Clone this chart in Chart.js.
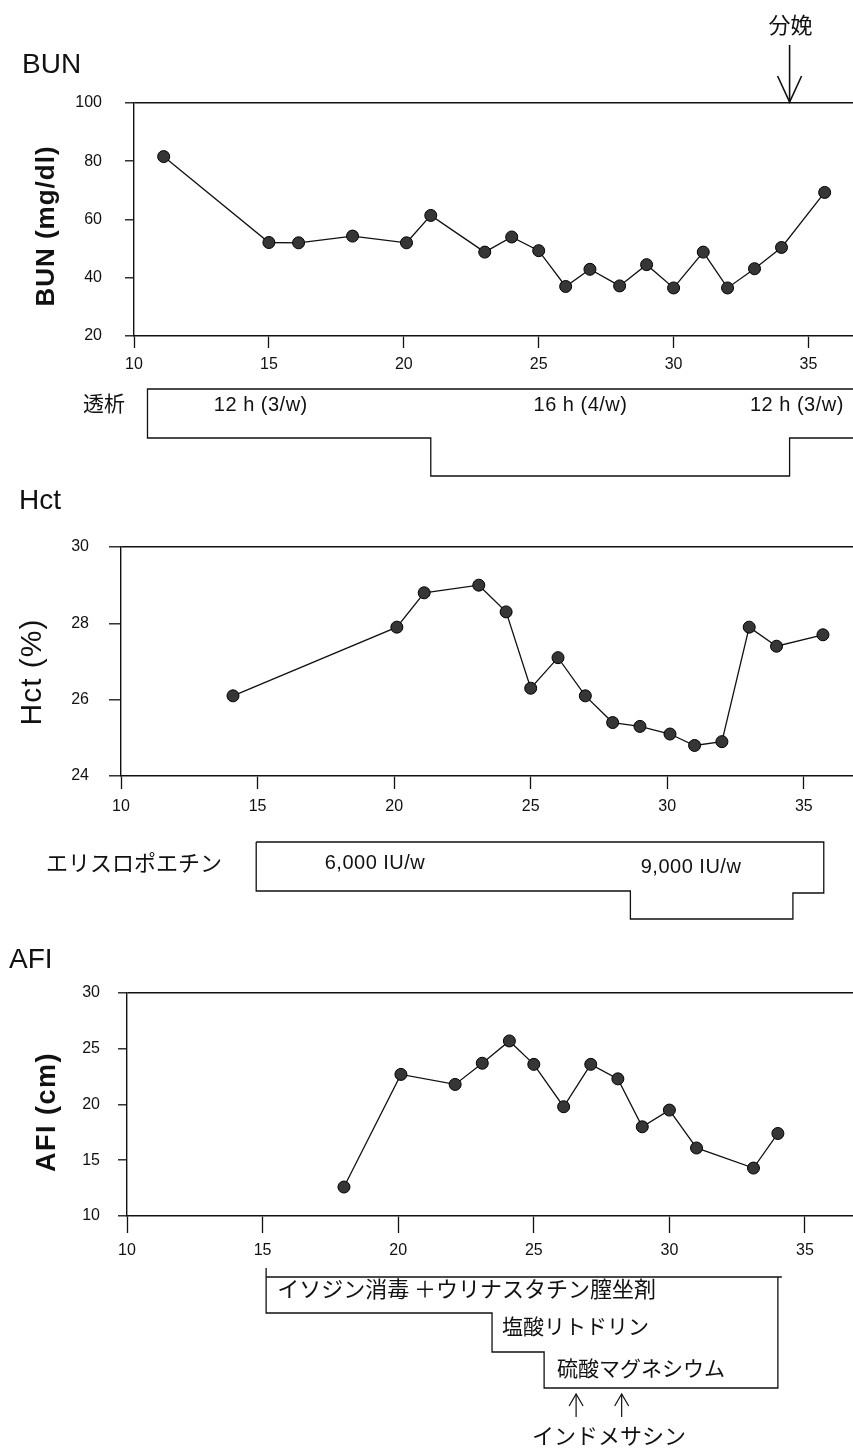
<!DOCTYPE html>
<html><head><meta charset="utf-8">
<script src="https://cdn.jsdelivr.net/npm/chart.js@4.4.1/dist/chart.umd.min.js"></script>
<style>
html,body{margin:0;padding:0;background:#fff;}
body{width:853px;height:1456px;position:relative;overflow:hidden;}
canvas{position:absolute;left:0;}
</style></head><body>
<canvas id="c1" width="853" height="480" style="top:0px"></canvas>
<canvas id="c2" width="853" height="455" style="top:480px"></canvas>
<canvas id="c3" width="853" height="521" style="top:935px"></canvas>
<script>
// ---- data (gestational week vs value) ----
const weekTicks = [10, 15, 20, 25, 30, 35];

const bunWeeks  = [11.1, 15.0, 16.1, 18.1, 20.1, 21.0, 23.0, 24.0, 25.0, 26.0, 26.9, 28.0, 29.0, 30.0, 31.1, 32.0, 33.0, 34.0, 35.6];
const bunValues = [81.6, 52.1, 52.0, 54.3, 52.0, 61.4, 48.8, 54.0, 49.3, 37.0, 42.9, 37.2, 44.5, 36.5, 48.8, 36.5, 43.1, 50.4, 69.3];
const bunTicks  = [20, 40, 60, 80, 100];

const hctWeeks  = [14.1, 20.1, 21.1, 23.1, 24.1, 25.0, 26.0, 27.0, 28.0, 29.0, 30.1, 31.0, 32.0, 33.0, 34.0, 35.7];
const hctValues = [26.1, 27.9, 28.8, 29.0, 28.3, 26.3, 27.1, 26.1, 25.4, 25.3, 25.1, 24.8, 24.9, 27.9, 27.4, 27.7];
const hctTicks  = [24, 26, 28, 30];

const afiWeeks  = [18.0, 20.1, 22.1, 23.1, 24.1, 25.0, 26.1, 27.1, 28.1, 29.0, 30.0, 31.0, 33.1, 34.0];
const afiValues = [12.6, 22.7, 21.8, 23.7, 25.7, 23.6, 19.8, 23.6, 22.3, 18.0, 19.5, 16.1, 14.3, 17.4];
const afiTicks  = [10, 15, 20, 25, 30];

const deliveryWeek = 34.3;

const dialysisChanges = [10.5, 21.0, 34.3];
const dialysisLevels  = [0, 1, 0];
const dialysisLabels  = ['12 h (3/w)', '16 h (4/w)', '12 h (3/w)'];

const epoChanges = [14.95, 28.65, 34.6];
const epoEnd     = 35.73;
const epoLevels  = [0, 1, 0];
const epoLabels  = ['6,000 IU/w', '9,000 IU/w'];

const drugStarts = [15.13, 23.46, 25.38];
const drugEnd    = 34.0;
const drugLabels = ['イソジン消毒 ＋ウリナスタチン膣坐剤', '塩酸リトドリン', '硫酸マグネシウム'];
const indomethacinWeeks = [26.56, 28.24];

// ---- drawing helpers ----
const SANS = '"Liberation Sans", Arial, Helvetica, sans-serif';
const CJK  = '"Noto Sans CJK JP", "Noto Sans CJK SC", sans-serif';
const INK  = '#111';

function text(ctx, s, x, y, font, align, spacing) {
  ctx.save();
  ctx.font = font; ctx.fillStyle = INK; ctx.textAlign = align || 'left'; ctx.textBaseline = 'middle';
  if (spacing) ctx.letterSpacing = spacing;
  ctx.fillText(s, x, y);
  ctx.restore();
}
function vtext(ctx, s, x, y, font, spacing) {
  ctx.save();
  ctx.translate(x, y); ctx.rotate(-Math.PI / 2);
  ctx.font = font; ctx.fillStyle = INK; ctx.textAlign = 'center'; ctx.textBaseline = 'middle';
  if (spacing) ctx.letterSpacing = spacing;
  ctx.fillText(s, 0, 0);
  ctx.restore();
}
function poly(ctx, pts, w) {
  ctx.save();
  ctx.strokeStyle = INK; ctx.lineWidth = w || 1.4; ctx.lineJoin = 'miter';
  ctx.beginPath();
  pts.forEach((p, i) => i ? ctx.lineTo(p[0], p[1]) : ctx.moveTo(p[0], p[1]));
  ctx.stroke();
  ctx.restore();
}

function buildChart(id, cfg) {
  const pts = cfg.weeks.map((w, i) => ({ x: w, y: cfg.values[i] }));
  return new Chart(document.getElementById(id), {
    type: 'line',
    data: { datasets: [{
      data: pts, borderColor: INK, borderWidth: 1.3, tension: 0, clip: false,
      pointRadius: 6, pointHoverRadius: 6, pointBackgroundColor: '#363636',
      pointBorderColor: '#000', pointBorderWidth: 1
    }]},
    options: {
      responsive: false, animation: false, devicePixelRatio: 1, events: [],
      layout: { padding: { top: cfg.top, left: 0, right: 0, bottom: 0 }, autoPadding: false },
      plugins: { legend: { display: false }, tooltip: { enabled: false } },
      scales: {
        x: {
          type: 'linear', min: 10, max: cfg.xMax,
          afterFit: s => { s.height = cfg.xHeight; s.paddingLeft = 0; s.paddingRight = 0; },
          afterBuildTicks: s => { s.ticks = weekTicks.map(v => ({ value: v })); },
          grid: { drawOnChartArea: false, drawTicks: true, tickLength: cfg.xTickLen, tickColor: INK, tickWidth: 1.3, color: INK },
          border: { display: true, color: INK, width: 1.6 },
          ticks: { color: INK, font: { family: SANS, size: 16 }, padding: cfg.xPad, maxRotation: 0, autoSkip: false }
        },
        y: {
          type: 'linear', min: cfg.yMin, max: cfg.yMax,
          afterFit: s => { s.width = cfg.left; s.paddingTop = 0; s.paddingBottom = 0; },
          afterBuildTicks: s => { s.ticks = cfg.yTicks.map(v => ({ value: v })); },
          grid: {
            drawOnChartArea: true,
            color: c => (c.tick && c.tick.value === cfg.yMax) ? INK : 'rgba(0,0,0,0)',
            lineWidth: 1.6, tickLength: cfg.yTickLen, tickColor: INK, tickWidth: 1.3
          },
          border: { display: true, color: INK, width: 1.4 },
          ticks: { color: INK, font: { family: SANS, size: 16 }, padding: cfg.yPad, autoSkip: false }
        }
      }
    },
    plugins: [{ id: 'extras', afterDraw: chart => cfg.draw(chart) }]
  });
}

// ---- BUN panel ----
buildChart('c1', {
  weeks: bunWeeks, values: bunValues, yTicks: bunTicks,
  yMin: 20, yMax: 100, xMax: 36.65,
  top: 103, left: 134, xHeight: 144, xTickLen: 12, xPad: 7, yTickLen: 9, yPad: 23,
  draw: chart => {
    const ctx = chart.ctx, px = v => chart.scales.x.getPixelForValue(v);
    text(ctx, 'BUN', 22, 65, '28px ' + SANS);
    vtext(ctx, 'BUN (mg/dl)', 47, 226, 'bold 26px ' + SANS, '1px');
    const ax = px(deliveryWeek);
    poly(ctx, [[ax, 45], [ax, 102]], 1.6);
    poly(ctx, [[ax - 12, 76], [ax, 102], [ax + 12, 76]], 1.6);
    text(ctx, '分娩', ax + 1, 25, '22px ' + CJK, 'center');
    // dialysis regimen box
    const top = 389, rowBottom = [438, 476], right = chart.width;
    const p = [[right, top], [px(dialysisChanges[0]), top], [px(dialysisChanges[0]), rowBottom[dialysisLevels[0]]]];
    for (let i = 1; i < dialysisChanges.length; i++) {
      p.push([px(dialysisChanges[i]), rowBottom[dialysisLevels[i - 1]]]);
      p.push([px(dialysisChanges[i]), rowBottom[dialysisLevels[i]]]);
    }
    p.push([right, rowBottom[dialysisLevels[dialysisLevels.length - 1]]]);
    poly(ctx, p, 1.3);
    text(ctx, '透析', 125, 403, '21px ' + CJK, 'right');
    const labelAt = [14.7, 26.55, 34.57];
    dialysisLabels.forEach((s, i) => text(ctx, s, px(labelAt[i]), 405, '20px ' + SANS, 'center', '0.5px'));
  }
});

// ---- Hct panel ----
buildChart('c2', {
  weeks: hctWeeks, values: hctValues, yTicks: hctTicks,
  yMin: 24, yMax: 30, xMax: 36.8,
  top: 67, left: 121, xHeight: 159, xTickLen: 13, xPad: 8, yTickLen: 12, yPad: 20,
  draw: chart => {
    const ctx = chart.ctx, px = v => chart.scales.x.getPixelForValue(v);
    text(ctx, 'Hct', 19, 21, '28px ' + SANS);
    vtext(ctx, 'Hct (%)', 33, 192, '30px ' + SANS, '1px');
    // erythropoietin box
    const top = 362, rowBottom = [411, 439];
    const p = [[px(epoChanges[0]), top], [px(epoEnd), top], [px(epoEnd), 413]];
    const n = epoChanges.length;
    p.push([px(epoChanges[n - 1]), 413]);
    for (let i = n - 1; i >= 1; i--) {
      p.push([px(epoChanges[i]), rowBottom[epoLevels[i - 1]]]);
      if (i > 1) p.push([px(epoChanges[i - 1]), rowBottom[epoLevels[i - 1]]]);
    }
    p.push([px(epoChanges[1]), rowBottom[epoLevels[0]]]);
    p.push([px(epoChanges[0]), rowBottom[epoLevels[0]]]);
    p.push([px(epoChanges[0]), top]);
    poly(ctx, p, 1.3);
    text(ctx, 'エリスロポエチン', 46, 383, '22px ' + CJK, 'left');
    const labelAt = [19.3, 30.87];
    text(ctx, epoLabels[0], px(labelAt[0]), 383, '20px ' + SANS, 'center', '0.5px');
    text(ctx, epoLabels[1], px(labelAt[1]), 387, '20px ' + SANS, 'center', '0.5px');
  }
});

// ---- AFI panel ----
buildChart('c3', {
  weeks: afiWeeks, values: afiValues, yTicks: afiTicks,
  yMin: 10, yMax: 30, xMax: 36.77,
  top: 58, left: 127, xHeight: 240, xTickLen: 17, xPad: 8, yTickLen: 9, yPad: 18,
  draw: chart => {
    const ctx = chart.ctx, px = v => chart.scales.x.getPixelForValue(v);
    text(ctx, 'AFI', 9, 25, '28px ' + SANS);
    vtext(ctx, 'AFI (cm)', 48, 177, 'bold 27px ' + SANS, '1.5px');
    // drug staircase box
    const top = 342, rowBottom = [378, 417, 453];
    const p = [[px(drugStarts[0]), 333], [px(drugStarts[0]), rowBottom[0]]];
    for (let i = 1; i < drugStarts.length; i++) {
      p.push([px(drugStarts[i]), rowBottom[i - 1]]);
      p.push([px(drugStarts[i]), rowBottom[i]]);
    }
    p.push([px(drugEnd), rowBottom[drugStarts.length - 1]]);
    p.push([px(drugEnd), top]);
    poly(ctx, p, 1.3);
    poly(ctx, [[px(drugStarts[0]), top], [px(drugEnd) + 4, top]], 1.3);
    const offs = [11, 10, 13], ys = [354, 391, 433], sizes = [22, 21, 21];
    drugLabels.forEach((s, i) => text(ctx, s, px(drugStarts[i]) + offs[i], ys[i], sizes[i] + 'px ' + CJK, 'left'));
    indomethacinWeeks.forEach(w => {
      const x = px(w);
      poly(ctx, [[x, 482], [x, 459]], 1.2);
      poly(ctx, [[x - 7, 471], [x, 459], [x + 7, 471]], 1.2);
    });
    const mid = (px(indomethacinWeeks[0]) + px(indomethacinWeeks[1])) / 2;
    text(ctx, 'インドメサシン', mid + 10, 501, '22px ' + CJK, 'center');
  }
});
</script>
</body></html>
